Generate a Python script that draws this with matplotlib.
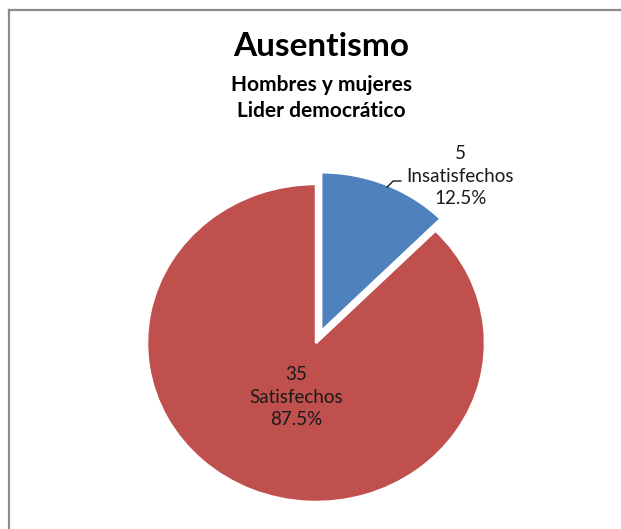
import matplotlib.pyplot as plt
from matplotlib.lines import Line2D

plt.rcParams['font.family'] = ['Lato', 'DejaVu Sans']

# --- datos ---
categorias = ["Insatisfechos", "Satisfechos"]
valores = [5, 35]
colores = ["#4F81BD", "#C0504D"]
titulo = "Ausentismo"
subtitulo = ["Hombres y mujeres", "Lider democrático"]

total = sum(valores)
etiquetas = [f"{v}\n{c}\n{v / total * 100:.1f}%" for v, c in zip(valores, categorias)]

fig = plt.figure(figsize=(6.21, 5.29), dpi=100)

# borde gris del área del gráfico
fig.add_artist(Line2D([9 / 621, 1.0], [1 - 10 / 529] * 2, color="#8C8C8C", lw=1.6))
fig.add_artist(Line2D([9 / 621] * 2, [0.0, 1 - 10 / 529], color="#8C8C8C", lw=1.6))

# --- torta (ligeramente achatada en vertical) ---
ax = fig.add_axes([0.2095, 0.021, 0.5987, 0.6612])
wedges, _ = ax.pie(valores, colors=colores, startangle=90, counterclock=False,
                   explode=[0.08, 0], radius=1.0,
                   wedgeprops=dict(edgecolor="white", linewidth=1.8))
ax.set_aspect("auto")
ax.set_xlim(-1.1, 1.1)
ax.set_ylim(-1.1, 1.1)
ax.axis("off")

# etiquetas de datos
ax.annotate(etiquetas[0], xy=(0.42, 0.98), xytext=(0.855, 1.05),
            ha="center", va="center", fontsize=13.5, linespacing=1.38,
            color="#1a1a1a",
            arrowprops=dict(arrowstyle="-", color="black", lw=0.9,
                            connectionstyle="angle,angleA=0,angleB=45,rad=0",
                            shrinkA=2, shrinkB=0, relpos=(0.0, 0.42)))
ax.text(-0.115, -0.34, etiquetas[1], ha="center", va="center",
        fontsize=13.5, linespacing=1.38, color="#1a1a1a")

# --- títulos ---
fig.text(0.517, 1 - 47 / 529, titulo, ha="center", va="center",
         fontsize=24, fontweight="bold")
fig.text(0.517, 1 - 85 / 529, subtitulo[0], ha="center", va="center",
         fontsize=15, fontweight="bold")
fig.text(0.517, 1 - 111 / 529, subtitulo[1], ha="center", va="center",
         fontsize=15, fontweight="bold")

fig.savefig("out.png", dpi=100)
